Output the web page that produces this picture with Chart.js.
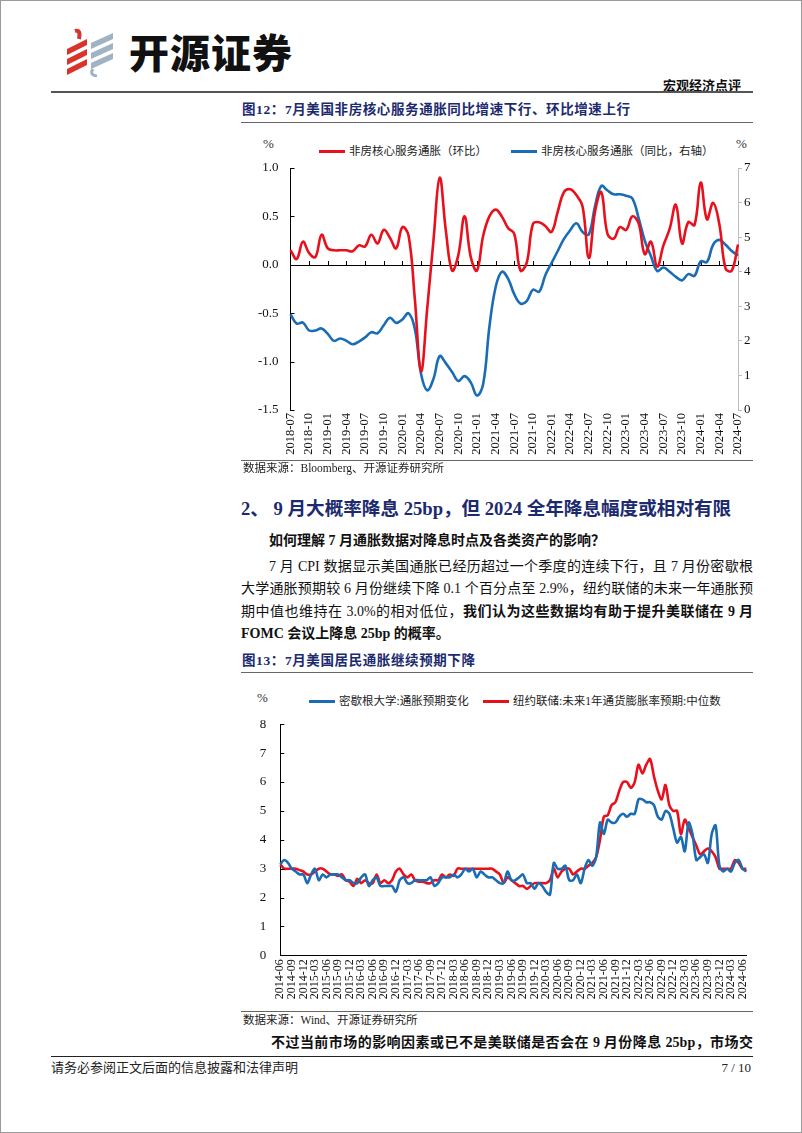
<!DOCTYPE html>
<html><head><meta charset="utf-8">
<script src="https://cdn.jsdelivr.net/npm/chart.js@4.4.1/dist/chart.umd.min.js"></script>
<style>
body{margin:0;background:#fff;}
#page{position:relative;width:802px;height:1133px;overflow:hidden;background:#fff;box-sizing:border-box;border:1px solid #9a9a9a;}
.a{position:absolute;white-space:nowrap;}
.f{font-family:"Liberation Serif","Noto Sans CJK SC",serif;}
.rule{position:absolute;height:0;}
.jl{text-align:justify;text-align-last:justify;}
.navy{color:#1c2a6e;}
.leg{position:absolute;font-family:"Liberation Serif","Noto Sans CJK SC",serif;font-size:11.5px;color:#222;line-height:14px;white-space:nowrap;}
.sw{display:inline-block;width:26px;height:3px;vertical-align:middle;margin-right:4px;position:relative;top:-1px;}
canvas{position:absolute;}
</style></head>
<body>
<div id="page">
  <svg class="a" style="left:62px;top:26px" width="56" height="50" viewBox="0 0 56 50">
    <polygon points="4,22 24,12 24,18 4,28" fill="#d9342b"/>
    <polygon points="4,32 24,22 24,28 4,38" fill="#d9342b"/>
    <polygon points="4,42 24,32 24,38 4,48" fill="#d9342b"/>
    <path d="M12,4 Q18,2 16,12" stroke="#d9342b" stroke-width="4" fill="none"/>
    <polygon points="28,16 50,6 50,12 28,22" fill="#9fb3c2"/>
    <polygon points="28,26 50,16 50,22 28,32" fill="#9fb3c2"/>
    <polygon points="28,36 50,26 50,32 28,42" fill="#9fb3c2"/>
    <path d="M30,42 Q26,48 34,49" stroke="#9fb3c2" stroke-width="3" fill="none"/>
  </svg>
  <div class="a" style="left:128px;top:24px;font-family:'Noto Sans CJK SC';font-weight:900;font-size:40px;letter-spacing:1px;color:#111;line-height:52px;">开源证券</div>
  <div class="a f" style="right:60px;top:77px;font-size:13px;font-weight:bold;color:#111;line-height:16px;">宏观经济点评</div>
  <div class="rule" style="left:50px;width:702px;top:90px;border-top:2px solid #555;"></div>

  <div class="a f navy" style="left:241px;top:100px;font-size:13.5px;font-weight:bold;line-height:18px;letter-spacing:0.6px;">图12：7月美国非房核心服务通胀同比增速下行、环比增速上行</div>
  <div class="rule" style="left:240px;width:512px;top:121px;border-top:1.5px solid #666;"></div>

  <div class="a f" style="left:262px;top:135px;font-size:13px;color:#333;line-height:16px;">%</div>
  <div class="a f" style="left:735px;top:135px;font-size:13px;color:#333;line-height:16px;">%</div>
  <div class="leg" style="left:318px;top:143px;"><span class="sw" style="background:#e8101c"></span>非房核心服务通胀（环比）</div>
  <div class="leg" style="left:510px;top:143px;"><span class="sw" style="background:#1a6cb5"></span>非房核心服务通胀（同比，右轴）</div>
  <canvas id="c1" width="520" height="330" style="left:240px;top:130px;width:520px;height:330px;"></canvas>

  <div class="rule" style="left:240px;width:512px;top:459px;border-top:1.5px solid #666;"></div>
  <div class="a f" style="left:242px;top:460px;font-size:11.5px;color:#222;line-height:15px;">数据来源：Bloomberg、开源证券研究所</div>

  <div class="a f navy" style="left:240px;top:496px;font-size:18.6px;font-weight:bold;line-height:24px;">2、 9 月大概率降息 25bp，但 2024 全年降息幅度或相对有限</div>
  <div class="a f" style="left:268px;top:531px;font-size:14px;font-weight:bold;color:#111;line-height:18px;">如何理解 7 月通胀数据对降息时点及各类资产的影响？</div>
  <div class="a f jl" style="left:268px;width:484px;top:557px;font-size:14px;color:#111;line-height:18px;">7 月 CPI 数据显示美国通胀已经历超过一个季度的连续下行，且 7 月份密歇根</div>
  <div class="a f jl" style="left:240px;width:512px;top:579px;font-size:14px;color:#111;line-height:18px;">大学通胀预期较 6 月份继续下降 0.1 个百分点至 2.9%，纽约联储的未来一年通胀预</div>
  <div class="a f jl" style="left:240px;width:512px;top:602px;font-size:14px;color:#111;line-height:18px;">期中值也维持在 3.0%的相对低位，<b>我们认为这些数据均有助于提升美联储在 9 月</b></div>
  <div class="a f" style="left:240px;top:624px;font-size:14px;font-weight:bold;color:#111;line-height:18px;">FOMC 会议上降息 25bp 的概率。</div>

  <div class="a f navy" style="left:241px;top:651px;font-size:13.5px;font-weight:bold;line-height:18px;letter-spacing:0.6px;">图13：7月美国居民通胀继续预期下降</div>
  <div class="rule" style="left:240px;width:512px;top:671px;border-top:1.5px solid #666;"></div>

  <div class="a f" style="left:256px;top:689px;font-size:13px;color:#333;line-height:16px;">%</div>
  <div class="leg" style="left:308px;top:693px;"><span class="sw" style="background:#1a6cb5"></span>密歇根大学:通胀预期变化</div>
  <div class="leg" style="left:482px;top:693px;"><span class="sw" style="background:#e8101c"></span>纽约联储:未来1年通货膨胀率预期:中位数</div>
  <canvas id="c2" width="520" height="330" style="left:240px;top:680px;width:520px;height:330px;"></canvas>

  <div class="rule" style="left:240px;width:512px;top:1010px;border-top:1.5px solid #666;"></div>
  <div class="a f" style="left:242px;top:1012px;font-size:11.5px;color:#222;line-height:15px;">数据来源：Wind、开源证券研究所</div>

  <div class="a f jl" style="left:270px;width:482px;top:1033px;font-size:14px;font-weight:bold;color:#111;line-height:18px;">不过当前市场的影响因素或已不是美联储是否会在 9 月份降息 25bp，市场交</div>
  <div class="rule" style="left:50px;width:702px;top:1055px;border-top:1.5px solid #222;"></div>
  <div class="a f" style="left:50px;top:1059px;font-size:13px;color:#222;line-height:16px;">请务必参阅正文后面的信息披露和法律声明</div>
  <div class="a f" style="right:50px;top:1059px;font-size:13px;color:#222;line-height:16px;">7 / 10</div>
</div>

<script>
// ---------- Chart 12 data ----------
const months12 = ['2018-07','2018-08','2018-09','2018-10','2018-11','2018-12',
'2019-01','2019-02','2019-03','2019-04','2019-05','2019-06','2019-07','2019-08','2019-09','2019-10','2019-11','2019-12',
'2020-01','2020-02','2020-03','2020-04','2020-05','2020-06','2020-07','2020-08','2020-09','2020-10','2020-11','2020-12',
'2021-01','2021-02','2021-03','2021-04','2021-05','2021-06','2021-07','2021-08','2021-09','2021-10','2021-11','2021-12',
'2022-01','2022-02','2022-03','2022-04','2022-05','2022-06','2022-07','2022-08','2022-09','2022-10','2022-11','2022-12',
'2023-01','2023-02','2023-03','2023-04','2023-05','2023-06','2023-07','2023-08','2023-09','2023-10','2023-11','2023-12',
'2024-01','2024-02','2024-03','2024-04','2024-05','2024-06','2024-07'];
const superMoM = [0.15,0.06,0.24,0.12,0.08,0.31,0.17,0.15,0.15,0.15,0.14,0.20,0.19,0.31,0.22,0.36,0.28,0.17,0.39,0.30,
-0.35,-1.10,-0.45,0.25,0.90,0.35,-0.06,0.10,0.50,0.08,-0.06,0.30,0.50,0.57,0.50,0.38,0.32,-0.06,0.02,0.42,0.44,0.40,
0.34,0.55,0.75,0.78,0.72,0.60,0.07,0.55,0.75,0.32,0.27,0.39,0.36,0.50,0.43,0.11,0.24,-0.02,0.20,0.37,0.62,0.22,0.44,
0.41,0.85,0.47,0.64,0.42,-0.04,-0.06,0.21];
const superYoY = [2.77,2.50,2.53,2.30,2.30,2.36,2.20,2.00,2.07,2.00,1.90,1.98,2.10,2.25,2.22,2.45,2.67,2.52,2.62,2.80,
2.35,1.05,0.57,0.90,1.56,1.35,1.10,0.84,0.98,0.80,0.42,0.75,2.40,3.55,4.00,3.80,3.35,3.08,3.15,3.48,3.42,3.90,
4.25,4.60,4.95,5.20,5.40,5.15,5.08,5.90,6.48,6.35,6.24,6.24,6.20,6.12,5.56,4.90,4.45,4.02,4.12,4.00,3.85,3.75,3.93,
3.88,4.30,4.28,4.78,4.92,4.78,4.60,4.47];
const leftTicks12 = [-1.5,-1.0,-0.5,0.0,0.5,1.0];
const rightTicks12 = [0,1,2,3,4,5,6,7];

// ---------- Chart 13 data ----------
const months13 = ['2014-06','2014-07','2014-08','2014-09','2014-10','2014-11','2014-12',
'2015-01','2015-02','2015-03','2015-04','2015-05','2015-06','2015-07','2015-08','2015-09','2015-10','2015-11','2015-12',
'2016-01','2016-02','2016-03','2016-04','2016-05','2016-06','2016-07','2016-08','2016-09','2016-10','2016-11','2016-12',
'2017-01','2017-02','2017-03','2017-04','2017-05','2017-06','2017-07','2017-08','2017-09','2017-10','2017-11','2017-12',
'2018-01','2018-02','2018-03','2018-04','2018-05','2018-06','2018-07','2018-08','2018-09','2018-10','2018-11','2018-12',
'2019-01','2019-02','2019-03','2019-04','2019-05','2019-06','2019-07','2019-08','2019-09','2019-10','2019-11','2019-12',
'2020-01','2020-02','2020-03','2020-04','2020-05','2020-06','2020-07','2020-08','2020-09','2020-10','2020-11','2020-12',
'2021-01','2021-02','2021-03','2021-04','2021-05','2021-06','2021-07','2021-08','2021-09','2021-10','2021-11','2021-12',
'2022-01','2022-02','2022-03','2022-04','2022-05','2022-06','2022-07','2022-08','2022-09','2022-10','2022-11','2022-12',
'2023-01','2023-02','2023-03','2023-04','2023-05','2023-06','2023-07','2023-08','2023-09','2023-10','2023-11','2023-12',
'2024-01','2024-02','2024-03','2024-04','2024-05','2024-06','2024-07'];
const michigan = [3.15,3.3,3.2,3.0,2.9,2.8,2.8,
2.5,2.8,3.0,2.6,2.8,2.7,2.8,2.8,2.8,2.7,2.6,2.6,
2.5,2.5,2.7,2.8,2.4,2.6,2.7,2.4,2.4,2.4,2.4,2.2,
2.6,2.7,2.5,2.5,2.6,2.6,2.6,2.6,2.7,2.4,2.5,2.7,
2.7,2.7,2.8,2.7,2.8,3.0,2.9,3.0,2.7,2.9,2.8,2.7,
2.7,2.6,2.5,2.5,2.9,2.6,2.6,2.7,2.8,2.5,2.5,2.3,
2.5,2.4,2.2,2.1,3.2,3.0,3.0,3.1,2.6,2.6,2.8,2.5,
3.0,3.3,3.1,3.4,4.6,4.2,4.7,4.6,4.6,4.8,4.9,4.8,
4.9,4.9,5.4,5.4,5.3,5.3,5.2,4.8,4.7,5.0,4.9,4.4,
3.9,4.1,3.6,4.6,4.2,3.3,3.4,3.5,3.2,4.2,4.5,3.1,
2.9,3.0,2.9,3.2,3.3,3.0,2.9];
const nyFed = [3.15,3.0,3.0,3.0,3.0,2.95,2.9,
2.8,2.8,2.9,3.0,3.0,2.9,2.8,2.8,2.75,2.8,2.6,2.55,
2.4,2.65,2.5,2.6,2.5,2.5,2.8,2.5,2.6,2.5,2.6,2.9,
3.0,2.8,2.7,2.8,2.6,2.55,2.55,2.5,2.5,2.6,2.6,2.8,
2.7,2.8,2.75,3.0,3.0,3.0,3.0,3.0,3.0,3.0,3.0,3.0,
3.0,2.9,2.8,2.5,2.7,2.6,2.5,2.4,2.4,2.3,2.4,2.5,
2.5,2.5,2.5,2.6,3.0,2.7,2.9,3.0,3.0,2.8,2.9,3.0,
3.0,3.1,3.2,3.4,4.0,4.8,4.85,5.2,5.3,5.7,6.0,6.0,
5.8,6.0,6.6,6.3,6.6,6.8,6.2,5.7,5.4,5.9,5.2,5.0,
5.0,4.2,4.7,4.4,4.1,3.8,3.5,3.6,3.7,3.6,3.4,3.0,
3.0,3.0,3.0,3.3,3.2,3.0,3.0];
const ticks13 = [0,1,2,3,4,5,6,7,8];

const RED = '#e8101c', BLUE = '#1a6cb5';
const FONT = 'Liberation Serif';

const c1Plugin = {
  id: 'c1extra',
  beforeDatasetsDraw(chart){
    const {ctx, chartArea:a, scales} = chart;
    const y0 = scales.y.getPixelForValue(0);
    ctx.save();
    ctx.strokeStyle = '#000'; ctx.lineWidth = 1;
    ctx.beginPath(); ctx.moveTo(a.left, Math.round(y0)+0.5); ctx.lineTo(a.right, Math.round(y0)+0.5); ctx.stroke();
    ctx.beginPath();
    for (let i = 3; i < months12.length; i += 3) {
      const x = Math.round(scales.x.getPixelForValue(i)) + 0.5;
      ctx.moveTo(x, Math.round(y0)); ctx.lineTo(x, Math.round(y0) - 4);
    }
    leftTicks12.forEach(v => {
      const y = Math.round(scales.y.getPixelForValue(v)) + 0.5;
      ctx.moveTo(a.left, y); ctx.lineTo(a.left + 4, y);
    });
    ctx.stroke();
    ctx.restore();
  }
};

new Chart(document.getElementById('c1'), {
  type: 'line',
  data: {
    labels: months12,
    datasets: [
      {label:'非房核心服务通胀（环比）', data: superMoM, yAxisID:'y', borderColor: RED, borderWidth: 2.6, pointRadius: 0, tension: 0.4, fill:false},
      {label:'非房核心服务通胀（同比，右轴）', data: superYoY, yAxisID:'y1', borderColor: BLUE, borderWidth: 2.6, pointRadius: 0, tension: 0.4, fill:false}
    ]
  },
  options: {
    responsive: false, animation: false, devicePixelRatio: 1,
    layout: {padding: {top: 37, left: 0, right: 0, bottom: 0}},
    plugins: {legend: {display: false}, tooltip: {enabled: false}},
    scales: {
      x: {
        type: 'category', offset: false,
        grid: {display: false, drawTicks: false},
        border: {display: false},
        ticks: {autoSkip: false, maxRotation: 90, minRotation: 90, padding: 3, color: '#111',
          font: {family: FONT, size: 12.5},
          callback: (v, i) => (i % 3 === 0 ? months12[i] : null)},
        afterFit: s => { s.height = 51; }
      },
      y: {
        position: 'left', min: -1.5, max: 1.0,
        grid: {drawOnChartArea: false, drawTicks: false},
        border: {display: true, color: '#000', width: 1},
        ticks: {stepSize: 0.5, padding: 12, color: '#111', font: {family: FONT, size: 13},
          callback: v => Number(v).toFixed(1)},
        afterFit: s => { s.width = 49.5; }
      },
      y1: {
        position: 'right', min: 0, max: 7,
        grid: {drawOnChartArea: false, drawTicks: true, tickLength: 4, color: '#bdbdbd'},
        border: {display: true, color: '#bdbdbd', width: 1},
        ticks: {stepSize: 1, padding: 2, color: '#111', font: {family: FONT, size: 13}},
        afterFit: s => { s.width = 23; }
      }
    }
  },
  plugins: [c1Plugin]
});

const c2Plugin = {
  id: 'c2extra',
  afterDraw(chart){
    const {ctx, chartArea:a, scales} = chart;
    ctx.save();
    ctx.strokeStyle = '#000'; ctx.lineWidth = 1;
    ctx.beginPath();
    ticks13.forEach(v => {
      const y = Math.round(scales.y.getPixelForValue(v)) + 0.5;
      ctx.moveTo(a.left, y); ctx.lineTo(a.left + 4, y);
    });
    ctx.stroke();
    ctx.restore();
  }
};

new Chart(document.getElementById('c2'), {
  type: 'line',
  data: {
    labels: months13,
    datasets: [
      {label:'密歇根大学:通胀预期变化', data: michigan, borderColor: BLUE, borderWidth: 2.6, pointRadius: 0, tension: 0.3, fill:false},
      {label:'纽约联储:未来1年通货膨胀率预期:中位数', data: nyFed, borderColor: RED, borderWidth: 2.6, pointRadius: 0, tension: 0.3, fill:false}
    ]
  },
  options: {
    responsive: false, animation: false, devicePixelRatio: 1,
    layout: {padding: {top: 43.3, left: 0, right: 7.5, bottom: 0}},
    plugins: {legend: {display: false}, tooltip: {enabled: false}},
    scales: {
      x: {
        type: 'category', offset: false,
        grid: {display: false, drawTicks: false},
        border: {display: true, color: '#000', width: 1},
        ticks: {autoSkip: false, maxRotation: 90, minRotation: 90, padding: 4, color: '#111',
          font: {family: FONT, size: 12},
          callback: (v, i) => (i % 3 === 0 ? months13[i] : null)},
        afterFit: s => { s.height = 55.7; }
      },
      y: {
        position: 'left', min: 0, max: 8,
        grid: {drawOnChartArea: false, drawTicks: false},
        border: {display: true, color: '#000', width: 1},
        ticks: {stepSize: 1, padding: 14, color: '#111', font: {family: FONT, size: 13}},
        afterFit: s => { s.width = 39.3; }
      }
    }
  },
  plugins: [c2Plugin]
});
</script>
</body></html>
